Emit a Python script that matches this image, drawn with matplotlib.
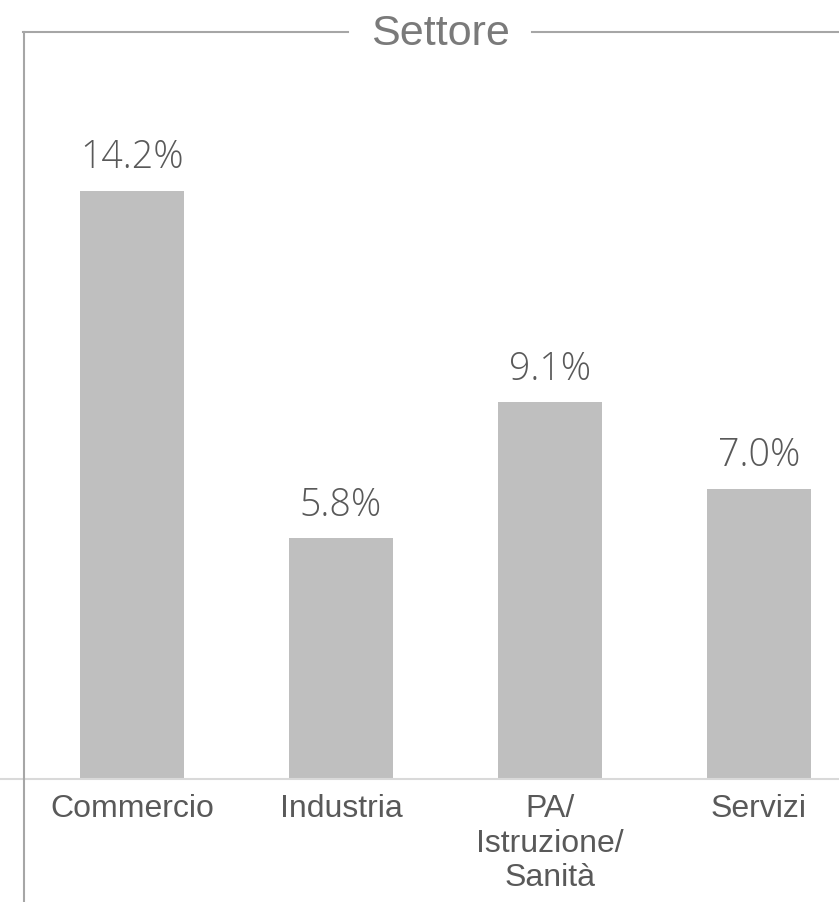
import matplotlib
matplotlib.use("Agg")
import matplotlib.pyplot as plt
from matplotlib.lines import Line2D

categories = ["Commercio", "Industria", "PA/\nIstruzione/\nSanità", "Servizi"]
values = [14.2, 5.8, 9.1, 7.0]
value_labels = ["14.2%", "5.8%", "9.1%", "7.0%"]
title = "Settore"

W, H = 839, 902
fig = plt.figure(figsize=(W / 100, H / 100), dpi=100)

def fx(px):
    return px / W

def fy(py):
    return 1 - py / H

base_px = 778.5
top_px = 32
ax = fig.add_axes([0, fy(base_px), 1, (base_px - top_px) / H])
x = list(range(len(categories)))
ax.bar(x, values, width=0.5, color="#bfbfbf", zorder=2)
ax.set_xlim(-132 / 209, (W - 132) / 209)
ax.set_ylim(0, (base_px - top_px) / 41.4)

for s in ["top", "right", "left"]:
    ax.spines[s].set_visible(False)
ax.spines["bottom"].set_color("#d9d9d9")
ax.spines["bottom"].set_linewidth(1.5)
ax.set_yticks([])
ax.set_xticks(x)
ax.set_xticklabels(categories, fontfamily="Liberation Sans", fontsize=23, color="#595959")
for lbl in ax.get_xticklabels():
    lbl.set_linespacing(1.21)
ax.tick_params(axis="x", length=0, pad=11)

for xi, v, t in zip(x, values, value_labels):
    ax.annotate(t, (xi, v), xytext=(0, 16), textcoords="offset points",
                ha="center", va="baseline", fontsize=27, color="#595959",
                fontfamily=["Open Sans", "DejaVu Sans"], fontweight="light")

lc = "#a6a6a6"
fig.add_artist(Line2D([fx(24), fx(24)], [fy(top_px), 0], color=lc, lw=1.5))
fig.add_artist(Line2D([fx(23.3), fx(348)], [fy(top_px), fy(top_px)], color=lc, lw=1.5))
fig.add_artist(Line2D([fx(532), 1], [fy(top_px), fy(top_px)], color=lc, lw=1.5))
fig.text(fx(440), fy(45), title, ha="center", va="baseline", fontsize=31,
         color="#7a7a7a", fontfamily="Liberation Sans")

fig.savefig("out.png", dpi=100)
